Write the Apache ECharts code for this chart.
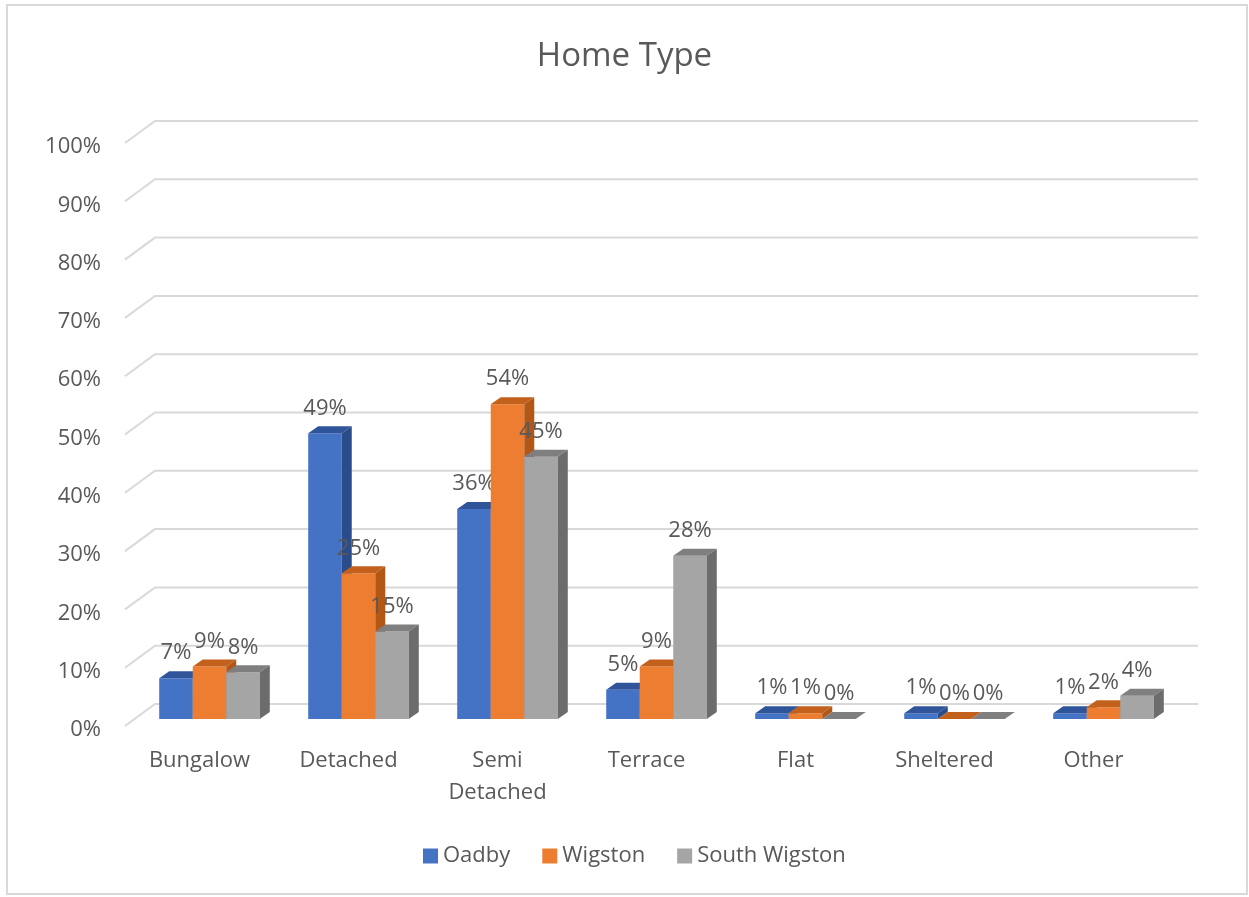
<!DOCTYPE html>
<html>
<head>
<meta charset="utf-8">
<script src="https://cdn.jsdelivr.net/npm/echarts@6/dist/echarts.min.js"></script>
<style>html,body{margin:0;padding:0;background:#fff}#c{width:1249px;height:897px}</style>
</head>
<body>
<div id="c"></div>
<script>
const categories = ['Bungalow', 'Detached', 'Semi\nDetached', 'Terrace', 'Flat', 'Sheltered', 'Other'];
const seriesNames = ['Oadby', 'Wigston', 'South Wigston'];
const oadby = [7, 49, 36, 5, 1, 1, 1];
const wigston = [9, 25, 54, 9, 1, 0, 2];
const southWigston = [8, 15, 45, 28, 0, 0, 4];
const yTicks = [0, 0.1, 0.2, 0.3, 0.4, 0.5, 0.6, 0.7, 0.8, 0.9, 1];
const yTickLabels = ['0%', '10%', '20%', '30%', '40%', '50%', '60%', '70%', '80%', '90%', '100%'];

const FONT = '"Open Sans", "DejaVu Sans", sans-serif';
const TXT = '#595959';
const faceColors = [
  {front: '#4472C4', top: '#30549A', side: '#2B4C8A'},
  {front: '#ED7D31', top: '#C3611C', side: '#B35716'},
  {front: '#A5A5A5', top: '#7F7F7F', side: '#6C6C6C'}
];
const DX = 10, DY = -7;       // offset from front wall plane to bars' front face
const WX = 30, WY = -22;      // offset from front plane to back wall
const BAR_FRAC = 0.225;

function barSeries(k, values) {
  return {
    name: seriesNames[k],
    type: 'custom',
    z: 3 + k,
    itemStyle: {color: faceColors[k].front},
    data: values.map((v, i) => [i, v / 100]),
    encode: {x: 0, y: 1},
    renderItem: function (params, api) {
      const i = api.value(0), v = api.value(1);
      const base = api.coord([i, 0]);
      const topP = api.coord([i, v]);
      const band = api.size([1, 0])[0];
      const bw = band * BAR_FRAC;
      const cx = base[0] + DX + (k - 1) * bw;
      const xl = cx - bw / 2, xr = cx + bw / 2;
      const yb = base[1] + DY, yt = topP[1] + DY;
      const c = faceColors[k];
      return {
        type: 'group',
        children: [
          {type: 'rect', shape: {x: xl, y: yt, width: bw, height: yb - yt}, style: {fill: c.front}},
          {type: 'polygon', shape: {points: [[xl, yt], [xl + DX, yt + DY], [xr + DX, yt + DY], [xr, yt]]}, style: {fill: c.top}},
          {type: 'polygon', shape: {points: [[xr, yt], [xr + DX, yt + DY], [xr + DX, yb + DY], [xr, yb]]}, style: {fill: c.side}},
          {type: 'text', style: {text: Math.round(v * 100) + '%', x: cx, y: yt - 25, align: 'center', verticalAlign: 'middle', fill: TXT, fontSize: 22, fontFamily: FONT}}
        ]
      };
    }
  };
}

const chart = echarts.init(document.getElementById('c'), null, {renderer: 'canvas'});
chart.setOption({
  animation: false,
  backgroundColor: '#ffffff',
  title: {
    text: 'Home Type', left: 'center', top: 35,
    textStyle: {fontFamily: FONT, fontSize: 33, fontWeight: 'normal', color: TXT}
  },
  legend: {
    data: seriesNames, left: 418, top: 840, icon: 'rect', itemWidth: 15, itemHeight: 15, itemGap: 32,
    textStyle: {fontFamily: FONT, fontSize: 22, color: TXT}
  },
  grid: {left: 125, right: 81, top: 143, bottom: 171},
  xAxis: {
    type: 'category', data: categories,
    axisLine: {show: false}, axisTick: {show: false}, splitLine: {show: false},
    axisLabel: {margin: 19, fontFamily: FONT, fontSize: 22, color: TXT, lineHeight: 32, interval: 0}
  },
  yAxis: {
    type: 'value', min: 0, max: 1, interval: 0.1,
    axisLine: {show: false}, axisTick: {show: false}, splitLine: {show: false},
    axisLabel: {
      margin: 24, fontFamily: FONT, fontSize: 22, color: TXT,
      rich: {a: {fontFamily: FONT, fontSize: 22, color: TXT, padding: [8, 0, 0, 0]}},
      formatter: function (v) {
        const idx = yTicks.findIndex(t => Math.abs(t - v) < 1e-6);
        return idx >= 0 ? '{a|' + yTickLabels[idx] + '}' : '';
      }
    }
  },
  graphic: [{
    type: 'rect', shape: {x: 7, y: 5, width: 1240, height: 889},
    style: {fill: 'none', stroke: '#d9d9d9', lineWidth: 2}, silent: true, z: -1
  }],
  series: [
    {
      type: 'custom', name: 'grid', z: 1, silent: true,
      data: yTicks.map(t => [0, t]),
      encode: {x: 0, y: 1},
      renderItem: function (params, api) {
        const t = api.value(1);
        const p = api.coord([0, t]);
        const cs = params.coordSys;
        const x0 = cs.x, x1 = cs.x + cs.width;
        return {
          type: 'polyline',
          shape: {points: [[x0, p[1]], [x0 + WX, p[1] + WY], [x1 + WX, p[1] + WY]]},
          style: {stroke: '#d9d9d9', lineWidth: 2, fill: 'none'}
        };
      }
    },
    barSeries(0, oadby),
    barSeries(1, wigston),
    barSeries(2, southWigston)
  ]
});
</script>
</body>
</html>
